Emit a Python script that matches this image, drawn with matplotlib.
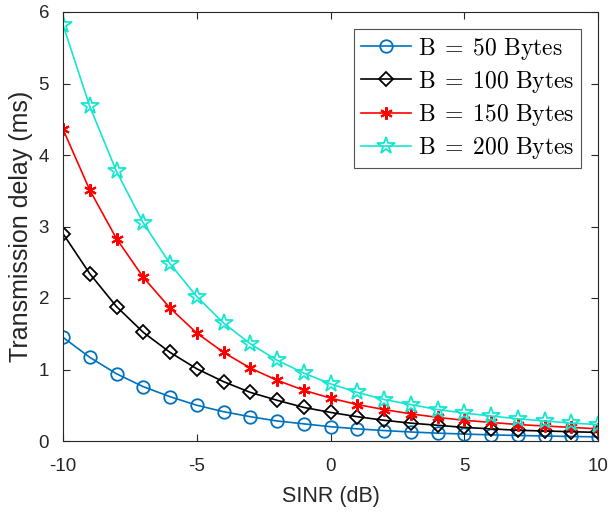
import matplotlib
matplotlib.use('Agg')
import matplotlib.pyplot as plt

plt.rcParams['font.family'] = ['Liberation Sans', 'DejaVu Sans']
plt.rcParams['mathtext.fontset'] = 'cm'
plt.rcParams['axes.unicode_minus'] = False

sinr = list(range(-10, 11))
d50 = [1.45, 1.17, 0.94, 0.76, 0.62, 0.50, 0.41, 0.34, 0.28, 0.24, 0.20,
       0.17, 0.146, 0.126, 0.110, 0.097, 0.086, 0.077, 0.070, 0.063, 0.058]
d100 = [2.90, 2.34, 1.88, 1.52, 1.24, 1.01, 0.83, 0.68, 0.57, 0.47, 0.40,
        0.34, 0.29, 0.25, 0.22, 0.19, 0.17, 0.15, 0.14, 0.13, 0.12]
d150 = [4.36, 3.51, 2.83, 2.29, 1.86, 1.51, 1.24, 1.02, 0.85, 0.71, 0.60,
        0.51, 0.44, 0.38, 0.33, 0.29, 0.26, 0.23, 0.21, 0.19, 0.17]
d200 = [5.82, 4.68, 3.77, 3.05, 2.48, 2.02, 1.65, 1.36, 1.13, 0.95, 0.80,
        0.68, 0.58, 0.51, 0.44, 0.39, 0.35, 0.31, 0.28, 0.25, 0.23]
labels = [r'$\mathrm{B}\;=\;50\ \mathrm{Bytes}$', r'$\mathrm{B}\;=\;100\ \mathrm{Bytes}$',
          r'$\mathrm{B}\;=\;150\ \mathrm{Bytes}$', r'$\mathrm{B}\;=\;200\ \mathrm{Bytes}$']

fig = plt.figure(figsize=(6.13, 5.18), dpi=100)
ax = fig.add_axes([63/613, 1 - 441/518, 535/613, 429/518])

asterisk = (6, 2, 0)
ax.plot(sinr, d50, '-o', color='#0072bd', mfc='none', ms=9, mew=1.3, lw=1.2, label=labels[0])
ax.plot(sinr, d100, '-D', color='black', mfc='none', ms=7.5, mew=1.3, lw=1.2, label=labels[1])
ax.plot(sinr, d150, '-', marker=asterisk, color='red', ms=9, mew=1.5, lw=1.2, label=labels[2])
ax.plot(sinr, d200, '-*', color='#14e6d0', mfc='none', ms=13, mew=1.3, lw=1.2, label=labels[3])

ax.set_xlim(-10, 10)
ax.set_ylim(0, 6)
ax.set_xticks([-10, -5, 0, 5, 10])
ax.set_yticks([0, 1, 2, 3, 4, 5, 6])
ax.tick_params(axis='both', direction='in', labelsize=13.5, colors='#262626',
               top=True, right=True, length=5)
ax.tick_params(axis='x', pad=12)
ax.tick_params(axis='y', pad=10)
for s in ax.spines.values():
    s.set_color('#262626')
ax.set_xlabel('SINR (dB)', fontsize=15.5, color='#262626', labelpad=8)
ax.set_ylabel('Transmission delay (ms)', fontsize=18, color='#262626', labelpad=4)

leg = ax.legend(loc='upper right', fontsize=17, fancybox=False, edgecolor='#262626',
                handlelength=2.1, borderpad=0.3, labelspacing=0.3, handletextpad=0.3,
                borderaxespad=0.7)
leg.get_frame().set_linewidth(0.8)

fig.savefig('out.png', dpi=100)
